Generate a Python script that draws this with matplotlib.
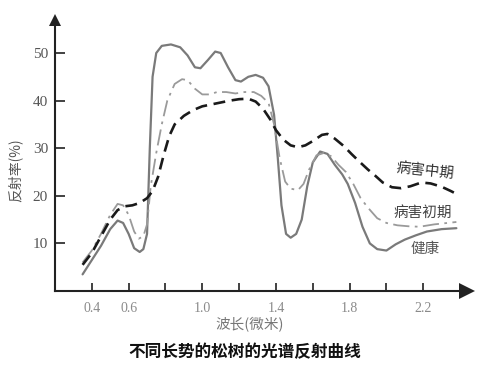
import matplotlib
matplotlib.use("Agg")
import matplotlib.pyplot as plt

# wavelength (micron) / reflectance (%)
wl_healthy = [0.35, 0.40, 0.45, 0.50, 0.54, 0.57, 0.60, 0.63, 0.66, 0.68, 0.70, 0.715,
              0.73, 0.75, 0.78, 0.83, 0.88, 0.92, 0.96, 0.99, 1.03, 1.07, 1.10, 1.14,
              1.18, 1.21, 1.25, 1.29, 1.33, 1.36, 1.39, 1.41, 1.43, 1.455, 1.48, 1.51,
              1.54, 1.57, 1.60, 1.64, 1.68, 1.72, 1.76, 1.79, 1.83, 1.87, 1.91, 1.95,
              2.00, 2.05, 2.10, 2.16, 2.22, 2.30, 2.38]
rf_healthy = [3.5, 6.5, 9.5, 13, 14.8, 14.3, 12, 9, 8.2, 8.8, 12, 30,
              45, 50, 51.5, 51.8, 51.2, 49.5, 47, 46.8, 48.5, 50.3, 50, 47,
              44.3, 44, 45, 45.4, 44.8, 43, 37, 28, 18, 12, 11.2, 12,
              15, 22, 27, 29.3, 28.8, 26.5, 24.5, 22.5, 18.5, 13.5, 10, 8.8,
              8.5, 9.8, 10.8, 11.7, 12.5, 13, 13.2]

wl_early = [0.35, 0.40, 0.45, 0.50, 0.54, 0.57, 0.60, 0.63, 0.655, 0.68, 0.70, 0.72,
            0.75, 0.78, 0.81, 0.85, 0.89, 0.92, 0.96, 1.00, 1.04, 1.08, 1.13, 1.18,
            1.23, 1.28, 1.32, 1.36, 1.39, 1.42, 1.45, 1.48, 1.52, 1.55, 1.58, 1.62,
            1.66, 1.70, 1.74, 1.78, 1.82, 1.86, 1.90, 1.95, 2.00, 2.06, 2.12, 2.18,
            2.26, 2.38]
rf_early = [6, 8.5, 12, 16, 18.3, 18, 16, 12.5, 11, 11.5, 14, 22,
            29, 35, 40, 43.5, 44.5, 44.3, 42.5, 41.3, 41.3, 41.8, 41.8, 41.5,
            41.8, 41.8, 41, 39.5, 35, 28, 23, 21.5, 21.2, 22.5, 25.5, 28.5,
            29, 28.3, 26.5, 25, 22.5, 19.5, 17.5, 15.3, 14.3, 13.8, 13.6, 13.5,
            14, 14.5]

wl_mid = [0.35, 0.40, 0.45, 0.50, 0.54, 0.58, 0.62, 0.66, 0.70, 0.73, 0.76, 0.79,
          0.82, 0.85, 0.90, 0.95, 1.00, 1.05, 1.10, 1.15, 1.20, 1.25, 1.29, 1.33,
          1.37, 1.40, 1.44, 1.48, 1.52, 1.56, 1.60, 1.65, 1.68, 1.72, 1.77, 1.81,
          1.85, 1.90, 1.94, 1.98, 2.03, 2.08, 2.13, 2.19, 2.24, 2.30, 2.35, 2.39]
rf_mid = [5.5, 8, 11.5, 15, 17, 17.8, 18, 18.5, 19.5, 21, 24, 28.5,
          32.5, 35, 36.8, 38, 38.8, 39.2, 39.6, 40, 40.3, 40.4, 39.8, 38.3,
          36, 33.8, 31.8, 30.6, 30.2, 30.6, 31.5, 32.8, 33, 32, 30.4, 28.8,
          27.3, 25.5, 24.2, 22.8, 21.8, 21.6, 22, 22.8, 22.6, 21.9, 21, 20.2]

x_ticks = [0.4, 0.6, 0.8, 1.0, 1.2, 1.4, 1.6, 1.8, 2.0, 2.2]
x_tick_labels = ["0.4", "0.6", "", "1.0", "", "1.4", "", "1.8", "", "2.2"]
y_ticks = [10, 20, 30, 40, 50]

cjk = ["Noto Sans CJK SC", "DejaVu Sans"]
num_font = "Liberation Serif"

fig = plt.figure(figsize=(4.9, 3.71), dpi=100)
ax = fig.add_axes([0.1122, 0.2156, 0.853, 0.757])

ax.plot(wl_healthy, rf_healthy, color="#7a7a7a", lw=1.6, solid_capstyle="round")
ax.plot(wl_early, rf_early, color="#9a9a9a", lw=1.3, linestyle=(0, (9, 3, 1.5, 3)))
ax.plot(wl_mid, rf_mid, color="#1a1a1a", lw=1.9, linestyle=(0, (4.5, 2.5)))

ax.set_xlim(0.2, 2.47)
ax.set_ylim(0, 59)
for s in ["top", "right"]:
    ax.spines[s].set_visible(False)
for s in ["left", "bottom"]:
    ax.spines[s].set_linewidth(1.5)
    ax.spines[s].set_color("#222222")
ax.spines["bottom"].set_bounds(0.2, 2.42)
ax.spines["left"].set_bounds(0, 56)

# arrow heads at the axis ends
ax.plot([2.44], [0], marker=">", color="#222222", ms=11, clip_on=False,
        markeredgewidth=0)
ax.plot([0.2], [57], marker="^", color="#222222", ms=8, clip_on=False,
        markeredgewidth=0)

ax.set_xticks(x_ticks)
ax.set_xticklabels(x_tick_labels, fontfamily=num_font, fontsize=10, color="#8a8a8a")
ax.set_yticks(y_ticks)
ax.set_yticklabels([str(v) for v in y_ticks], fontfamily=num_font, fontsize=11,
                   color="#555555")
ax.tick_params(axis="x", direction="in", length=6, width=1.3, pad=8, colors="#333333",
               labelcolor="#8a8a8a")
ax.tick_params(axis="y", direction="in", length=7, width=1.3, pad=5, colors="#333333",
               labelcolor="#555555")

# curve labels
ax.text(2.21, 25.2, "病害中期", family=cjk, fontsize=10.5, color="#333333",
        rotation=-6, ha="center", va="center")
ax.text(2.2, 16.4, "病害初期", family=cjk, fontsize=10.5, color="#444444",
        ha="center", va="center")
ax.text(2.21, 8.8, "健康", family=cjk, fontsize=10.5, color="#555555",
        ha="center", va="center")

fig.text(15 / 490, 1 - 170 / 371, "反射率(%)", family=cjk, fontsize=10, color="#555555",
         rotation=90, ha="center", va="center")
fig.text(250 / 490, 1 - 325 / 371, "波长(微米)", family=cjk, fontsize=10.5,
         color="#777777", ha="center", va="center")
fig.text(245 / 490, 1 - 352 / 371, "不同长势的松树的光谱反射曲线", family=cjk,
         fontsize=12, fontweight="bold", color="#111111", ha="center", va="center")

fig.savefig("out.png", dpi=100)
